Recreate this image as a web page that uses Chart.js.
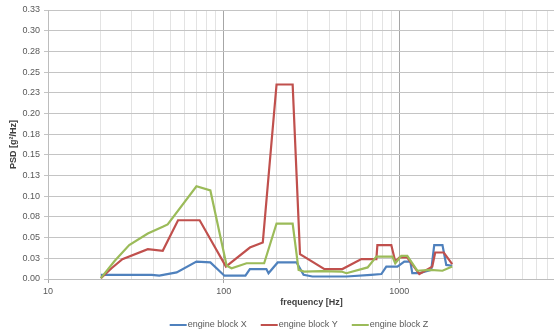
<!DOCTYPE html>
<html>
<head>
<meta charset="utf-8">
<script src="https://cdn.jsdelivr.net/npm/chart.js@4.4.1/dist/chart.umd.min.js"></script>
<style>
  html, body { margin: 0; padding: 0; background: #fff; width: 554px; height: 336px; overflow: hidden; }
  #wrap { width: 598px; height: 336px; }
</style>
</head>
<body>
<div id="wrap"><canvas id="c" width="598" height="336"></canvas></div>
<script>
// PSD of engine block vibration, three measurement axes
const seriesNames = ['engine block X', 'engine block Y', 'engine block Z'];

const freqX = [20, 39, 43, 54, 70, 84, 101, 133, 141, 175, 180, 203, 260, 285, 320, 500, 690, 790, 843, 975, 1067, 1155, 1185, 1300, 1520, 1580, 1760, 1850, 2000];
const psdX  = [0.005, 0.005, 0.004, 0.008, 0.021, 0.020, 0.004, 0.004, 0.012, 0.012, 0.007, 0.020, 0.020, 0.005, 0.003, 0.003, 0.005, 0.006, 0.015, 0.015, 0.021, 0.021, 0.007, 0.007, 0.011, 0.041, 0.041, 0.017, 0.016];

const freqY = [20, 23, 26.5, 37, 45, 55, 73, 103, 141, 167, 200, 247, 272, 375, 474, 608, 740, 750, 900, 948, 1000, 1110, 1300, 1540, 1600, 1790, 2000];
const psdY  = [0.001, 0.013, 0.024, 0.036, 0.034, 0.071, 0.071, 0.015, 0.038, 0.044, 0.235, 0.235, 0.030, 0.012, 0.012, 0.024, 0.024, 0.041, 0.041, 0.021, 0.026, 0.026, 0.006, 0.015, 0.032, 0.032, 0.018];

const freqZ = [20, 24, 29, 37, 45, 48, 70, 84, 104, 111, 135, 170, 200, 247, 267, 287, 360, 468, 500, 660, 740, 913, 948, 1026, 1110, 1265, 1500, 1760, 2000];
const psdZ  = [0.001, 0.022, 0.041, 0.055, 0.063, 0.066, 0.112, 0.107, 0.016, 0.013, 0.019, 0.019, 0.067, 0.067, 0.011, 0.009, 0.0095, 0.009, 0.007, 0.014, 0.027, 0.027, 0.019, 0.028, 0.028, 0.010, 0.011, 0.010, 0.015];

// axis ticks
const yTicks      = [0, 0.025, 0.05, 0.075, 0.1, 0.125, 0.15, 0.175, 0.2, 0.225, 0.25, 0.275, 0.3, 0.325];
const yTickLabels = ['0.00', '0.03', '0.05', '0.08', '0.10', '0.13', '0.15', '0.18', '0.20', '0.23', '0.25', '0.28', '0.30', '0.33'];
const xDecades    = [10, 100, 1000, 10000];
const xTickLabels = ['10', '100', '1000'];

const colors = ['#4F81BD', '#C0504D', '#9BBB59'];
const FONT = '"Liberation Sans", Arial, sans-serif';

function points(fs, vs) { return fs.map((f, i) => ({ x: f, y: vs[i] })); }

// every 1..9 multiple inside each decade, for the log grid
const xGridTicks = [];
xDecades.forEach((d, i) => {
  if (i === xDecades.length - 1) { xGridTicks.push(d); return; }
  for (let m = 1; m < 10; m++) xGridTicks.push(d * m);
});

const bottomLegend = {
  id: 'bottomLegend',
  afterDraw(chart) {
    const ctx = chart.ctx;
    ctx.save();
    ctx.font = '9px ' + FONT;
    ctx.textBaseline = 'middle';
    const lineW = 17, gap = 1, spacing = 14;
    const items = chart.data.datasets.map(ds => ({ label: ds.label, color: ds.borderColor, w: ctx.measureText(ds.label).width }));
    const total = items.reduce((s, it) => s + lineW + gap + it.w, 0) + spacing * (items.length - 1);
    let x = chart.width / 2 - total / 2;
    const y = 325;
    items.forEach(it => {
      ctx.strokeStyle = it.color;
      ctx.lineWidth = 2;
      ctx.beginPath();
      ctx.moveTo(x, y);
      ctx.lineTo(x + lineW, y);
      ctx.stroke();
      x += lineW + gap;
      ctx.fillStyle = '#595959';
      ctx.fillText(it.label, x, y);
      x += it.w + spacing;
    });
    ctx.restore();
  }
};

Chart.defaults.font.family = FONT;

new Chart(document.getElementById('c'), {
  type: 'line',
  data: {
    datasets: [
      { label: seriesNames[0], data: points(freqX, psdX), borderColor: colors[0], order: 3 },
      { label: seriesNames[1], data: points(freqY, psdY), borderColor: colors[1], order: 2 },
      { label: seriesNames[2], data: points(freqZ, psdZ), borderColor: colors[2], order: 1 }
    ]
  },
  options: {
    responsive: false,
    devicePixelRatio: 1,
    animation: false,
    layout: { padding: { top: 10, right: 23, bottom: 28, left: 0 } },
    elements: {
      line: { borderWidth: 2.2, tension: 0, fill: false },
      point: { radius: 0, hoverRadius: 0 }
    },
    plugins: { legend: { display: false }, tooltip: { enabled: false } },
    scales: {
      x: {
        type: 'logarithmic',
        min: 10,
        max: 10000,
        afterBuildTicks: s => { s.ticks = xGridTicks.map(v => ({ value: v })); },
        afterFit: s => { s.height = 29; },
        ticks: {
          autoSkip: false,
          maxRotation: 0,
          padding: 3,
          color: '#595959',
          font: { size: 9 },
          callback: v => { const s = String(v); return xTickLabels.includes(s) ? s : ''; }
        },
        grid: {
          color: c => (c.tick && xDecades.includes(c.tick.value)) ? '#a6a6a6' : '#e3e3e3',
          tickColor: c => (c.tick && xDecades.includes(c.tick.value)) ? '#a6a6a6' : 'rgba(0,0,0,0)',
          tickLength: 4,
          lineWidth: 1
        },
        border: { color: '#bdbdbd' },
        title: {
          display: true,
          text: 'frequency [Hz]',
          color: '#404040',
          font: { size: 9, weight: 'bold' },
          padding: { top: 1, bottom: 0 }
        }
      },
      y: {
        min: 0,
        max: 0.325,
        afterBuildTicks: s => { s.ticks = yTicks.map(v => ({ value: v })); },
        afterFit: s => { s.width = 48; },
        ticks: {
          padding: 4,
          color: '#595959',
          font: { size: 9 },
          callback: (v, i) => yTickLabels[i]
        },
        grid: { color: '#c4c4c4', tickColor: '#c4c4c4', tickLength: 4, lineWidth: 1 },
        border: { color: '#bdbdbd' },
        title: {
          display: true,
          text: 'PSD [g²/Hz]',
          color: '#404040',
          font: { size: 9, weight: 'bold' },
          padding: { top: 8, bottom: 0 }
        }
      }
    }
  },
  plugins: [bottomLegend]
});
</script>
</body>
</html>
